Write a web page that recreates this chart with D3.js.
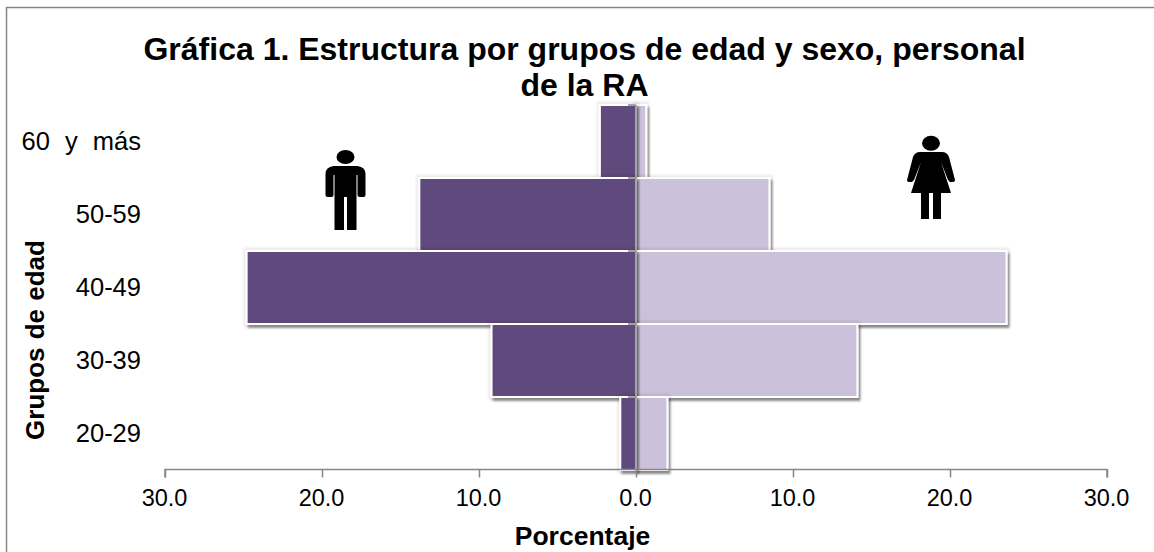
<!DOCTYPE html>
<html><head><meta charset="utf-8">
<script src="https://cdn.jsdelivr.net/npm/d3@7"></script>
<style>html,body{margin:0;padding:0;background:#fff;overflow:hidden}svg{display:block}text{font-family:"Liberation Sans",Arial,sans-serif;fill:#000}</style>
</head><body><svg id="c" width="1154" height="552"></svg>
<script>
const categories = ["60 y más","50-59","40-49","30-39","20-29"];
const hombres = [2.3,13.8,24.8,9.2,1.0];
const mujeres = [0.65,8.5,23.6,14.1,2.0];
const xTicks = [-30,-20,-10,0,10,20,30];
const titleLines = ["Gráfica 1. Estructura por grupos de edad y sexo, personal","de la RA"];
const svg = d3.select("#c");
const defs = svg.append("defs");
const f = defs.append("filter").attr("id","sh").attr("filterUnits","userSpaceOnUse").attr("x",0).attr("y",0).attr("width",1154).attr("height",552);
f.append("feMorphology").attr("in","SourceAlpha").attr("operator","dilate").attr("radius",2).attr("result","d");
f.append("feGaussianBlur").attr("in","d").attr("stdDeviation",1.5).attr("result","b1");
f.append("feComponentTransfer").attr("in","b1").attr("result","halo").append("feFuncA").attr("type","linear").attr("slope",0.09);
f.append("feOffset").attr("in","SourceAlpha").attr("dx",1.5).attr("dy",3).attr("result","o");
f.append("feGaussianBlur").attr("in","o").attr("stdDeviation",1.2).attr("result","b2");
f.append("feComponentTransfer").attr("in","b2").attr("result","drop").append("feFuncA").attr("type","linear").attr("slope",0.42);
const m = f.append("feMerge");
m.append("feMergeNode").attr("in","halo");
m.append("feMergeNode").attr("in","drop");
m.append("feMergeNode").attr("in","SourceGraphic");

svg.append("rect").attr("x",6.5).attr("y",7.5).attr("width",1300).attr("height",700).attr("fill","#fff").attr("stroke","#868686").attr("stroke-width",1.5);

const x = d3.scaleLinear().domain([-30,30]).range([165,1107]);
const y = d3.scaleBand().domain(categories).range([105,470]).padding(0);

titleLines.forEach((t,i)=>svg.append("text").attr("x",584.5).attr("y",[60,96][i]).attr("text-anchor","middle").attr("font-size",32).attr("font-weight","bold").text(t));

const bars = svg.append("g");
categories.forEach((c,i)=>{
  [[mujeres[i],"#ccc1da",1],[hombres[i],"#604a7b",-1]].forEach(([v,fill,s])=>{
    bars.append("rect")
      .attr("x",s<0?x(-v):x(0))
      .attr("y",y(c))
      .attr("width",Math.abs(x(v)-x(0)))
      .attr("height",y.bandwidth())
      .attr("fill",fill).attr("stroke","#fff").attr("stroke-width",2).attr("filter","url(#sh)");
  });
});

// axes
const axX = d3.axisBottom(x).tickValues(xTicks).tickFormat(d=>Math.abs(d).toFixed(1)).tickSize(8).tickPadding(12);
const gx = svg.append("g").attr("transform","translate(0,469.5)").call(axX);
gx.selectAll(".domain").attr("stroke","#868686").attr("stroke-width",1.5).attr("d",`M${x(-30)},8V0H${x(30)}V8`);
gx.selectAll("line").attr("stroke","#868686").attr("stroke-width",1.5);
gx.selectAll("text").attr("font-size",23.5).attr("x",-1);

const ax = svg.append("g");
ax.append("line").attr("x1",x(0)).attr("x2",x(0)).attr("y1",105).attr("y2",470).attr("stroke","#868686").attr("stroke-width",1.5);
ax.selectAll("line.t").data(categories).join("line").attr("class","t")
  .attr("x1",x(0)-8).attr("x2",x(0)).attr("y1",d=>y(d)).attr("y2",d=>y(d)).attr("stroke","#868686").attr("stroke-width",1.5);

svg.append("g").selectAll("text").data(categories).join("text")
  .attr("x",141).attr("y",d=>y(d)+y.bandwidth()/2+8.5).attr("text-anchor","end").attr("font-size",25.5).attr("word-spacing",8).text(d=>d);

svg.append("text").attr("x",582.5).attr("y",544.5).attr("text-anchor","middle").attr("font-size",26.5).attr("font-weight","bold").text("Porcentaje");
svg.append("text").attr("transform","translate(43.5,340) rotate(-90)").attr("text-anchor","middle").attr("font-size",26).attr("font-weight","bold").attr("word-spacing",1).text("Grupos de edad");

// pictograms
const man = svg.append("g").attr("transform","translate(345.5,150)");
man.append("ellipse").attr("cy",7).attr("rx",9).attr("ry",7);
man.append("path").attr("d","M-20,24Q-20,17 -12,16H12Q20,17 20,24V45Q20,47 18,47H14Q12,47 12,45V25H11V80H1.5V47H-1.5V80H-11V25H-12V45Q-12,47 -14,47H-18Q-20,47 -20,45Z");
const woman = svg.append("g").attr("transform","translate(931,136)");
woman.append("ellipse").attr("cy",7.3).attr("rx",9).attr("ry",7.5);
woman.append("path").attr("d","M-11,16H11Q16,16 18,21L24,44Q24,46 21,46H19Q18,45 17,44L10,26L20,57H10V83H2V57H-2V83H-10V57H-20L-10,26L-17,44Q-18,45 -19,46H-21Q-24,46 -24,44L-18,21Q-16,16 -11,16Z");
</script></body></html>
